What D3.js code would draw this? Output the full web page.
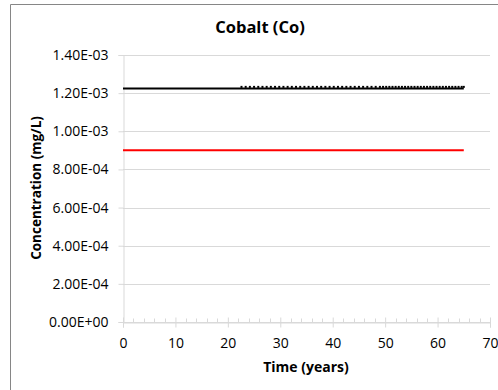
<!DOCTYPE html>
<html>
<head>
<meta charset="utf-8">
<script src="https://cdn.jsdelivr.net/npm/d3@7"></script>
<style>
  html, body { margin: 0; padding: 0; background: #fff; }
  svg { display: block; font-family: "Open Sans", Lato, sans-serif; }
</style>
</head>
<body>
<svg id="chart" width="498" height="390"></svg>
<script>
// Cobalt concentration over time
const modelTimes = [0, 22.6, 23.4, 24.2, 25.0, 25.8, 26.6, 27.4, 28.2, 29.0, 29.8, 30.6, 31.4,
  32.2, 33.0, 33.8, 34.6, 35.4, 36.2, 37.0, 37.8, 38.6, 39.4, 40.2, 41.0, 41.8, 42.6, 43.4,
  44.2, 45.0, 45.8, 46.6, 47.4, 48.2, 49.0, 49.6, 50.2, 50.8, 51.4, 52.0, 52.6, 53.2, 53.8,
  54.4, 55.0, 55.6, 56.2, 56.8, 57.4, 58.0, 58.6, 59.2, 59.8, 60.4, 61.0, 61.6, 62.2, 62.8,
  63.4, 64.0, 64.6, 65.0];
const modelConc = modelTimes.map(() => 1.225e-3);

const limitTimes = [0, 65];
const limitConc = [9.0e-4, 9.0e-4];

const xTicks = [0, 10, 20, 30, 40, 50, 60, 70];
const xMinorTicks = d3.range(0, 71, 2);
const yTicks = [0, 2e-4, 4e-4, 6e-4, 8e-4, 1e-3, 1.2e-3, 1.4e-3];
const yTickLabels = ["0.00E+00", "2.00E-04", "4.00E-04", "6.00E-04", "8.00E-04",
  "1.00E-03", "1.20E-03", "1.40E-03"];

const FONT = "'Open Sans', Lato, sans-serif";
const svg = d3.select("#chart");
const plot = { left: 123, right: 490, top: 55, bottom: 322 };

const x = d3.scaleLinear().domain([0, 70]).range([plot.left, plot.right]);
const y = d3.scaleLinear().domain([0, 1.4e-3]).range([plot.bottom, plot.top]);

// outer frame (top and left edges visible)
svg.append("path")
  .attr("d", "M10.5,390 V4.5 H498")
  .attr("fill", "none")
  .attr("stroke", "#868686")
  .attr("stroke-width", 1);

// horizontal gridlines
svg.append("g")
  .selectAll("line")
  .data(yTicks)
  .join("line")
  .attr("x1", plot.left)
  .attr("x2", plot.right)
  .attr("y1", d => Math.round(y(d)) + 0.5)
  .attr("y2", d => Math.round(y(d)) + 0.5)
  .attr("stroke", "#d9d9d9");

// y axis
const yAxis = svg.append("g")
  .attr("transform", `translate(${plot.left + 0.5},0)`)
  .call(d3.axisLeft(y).tickValues(yTicks).tickFormat((d, i) => yTickLabels[i])
    .tickSize(5).tickPadding(10));
yAxis.select(".domain").attr("stroke", "#d9d9d9");
yAxis.selectAll(".tick line").attr("stroke", "#d9d9d9");
yAxis.selectAll(".tick text")
  .attr("fill", "#000")
  .attr("font-size", "14px")
  .attr("font-family", FONT);

// x axis: minor ticks inside, major ticks crossing
const xAxisY = Math.round(y(0)) + 0.5;
svg.append("g")
  .selectAll("line")
  .data(xMinorTicks.filter(t => t % 10 !== 0))
  .join("line")
  .attr("x1", d => Math.round(x(d)) + 0.5)
  .attr("x2", d => Math.round(x(d)) + 0.5)
  .attr("y1", xAxisY - 4)
  .attr("y2", xAxisY)
  .attr("stroke", "#d9d9d9");

const xAxis = svg.append("g")
  .attr("transform", `translate(0,${xAxisY})`)
  .call(d3.axisBottom(x).tickValues(xTicks).tickFormat(d3.format("d"))
    .tickSize(5).tickPadding(11));
xAxis.select(".domain").attr("stroke", "#d9d9d9");
xAxis.selectAll(".tick line").attr("stroke", "#d9d9d9").attr("y1", -5);
xAxis.selectAll(".tick text")
  .attr("fill", "#000")
  .attr("font-size", "14px")
  .attr("font-family", FONT);

// series
const line = d3.line().x(d => x(d[0])).y(d => y(d[1]));

svg.append("path")
  .datum(limitTimes.map((t, i) => [t, limitConc[i]]))
  .attr("d", line)
  .attr("fill", "none")
  .attr("stroke", "#ff0000")
  .attr("stroke-width", 2);

const modelPts = modelTimes.map((t, i) => [t, modelConc[i]]);
svg.append("path")
  .datum(modelPts)
  .attr("d", line)
  .attr("fill", "none")
  .attr("stroke", "#000")
  .attr("stroke-width", 2);

svg.append("g")
  .selectAll("rect")
  .data(modelPts.slice(1))
  .join("rect")
  .attr("x", d => x(d[0]) - 1)
  .attr("y", d => y(d[1]) - 2.5)
  .attr("width", 2)
  .attr("height", 2)
  .attr("fill", "#000");

// titles
svg.append("text")
  .attr("x", 260)
  .attr("y", 33)
  .attr("text-anchor", "middle")
  .attr("font-size", "16.5px")
  .attr("font-weight", "bold")
  .text("Cobalt (Co)");

svg.append("text")
  .attr("x", 306)
  .attr("y", 372)
  .attr("text-anchor", "middle")
  .attr("font-size", "14px")
  .attr("font-weight", "bold")
  .text("Time (years)");

svg.append("text")
  .attr("transform", "translate(41,188) rotate(-90)")
  .attr("text-anchor", "middle")
  .attr("font-size", "13.5px")
  .attr("font-weight", "bold")
  .text("Concentration  (mg/L)");
</script>
</body>
</html>
